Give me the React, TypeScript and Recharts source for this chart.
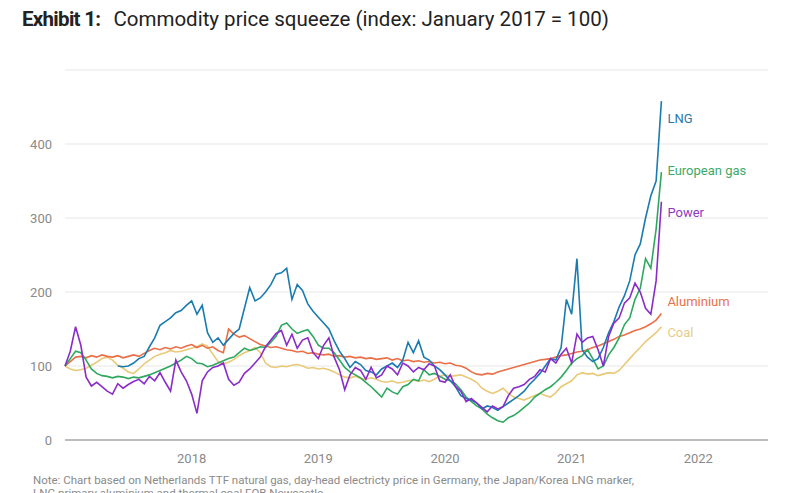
import React from 'react'
import {
  LineChart, Line, XAxis, YAxis, CartesianGrid, ReferenceDot,
} from 'recharts'

// semi-monthly observations from Jan 2017 to Sep 2021 (index: Jan 2017 = 100)
const STEPS_PER_YEAR = 24
const START_YEAR = 2017

const lng = [
  null, null, null, null, null, null, null, null, null, null,
  100, 99, 100, 104, 110, 113, 126, 138, 155, 160,
  165, 172, 175, 182, 188, 170, 182, 145, 132, 138,
  128, 136, 144, 150, 178, 206, 188, 192, 200, 210,
  224, 226, 232, 190, 210, 202, 184, 174, 166, 158,
  150, 134, 120, 110, 98, 106, 102, 94, 92, 88,
  96, 100, 104, 98, 108, 132, 118, 134, 112, 108,
  100, 95, 88, 80, 72, 60, 56, 54, 50, 42,
  46, 44, 40, 45, 50, 55, 60, 66, 75, 82,
  90, 100, 110, 108, 125, 190, 170, 245, 122, 112,
  106, 110, 125, 145, 160, 180, 195, 215, 250, 265,
  300, 330, 350, 458,
]

const euroGas = [
  100, 110, 120, 118, 108, 96, 90, 87, 86, 84,
  86, 85, 83, 85, 84, 86, 88, 91, 94, 97,
  100, 104, 108, 113, 110, 104, 103, 99, 101, 104,
  107, 110, 112, 118, 124, 121, 123, 126, 125, 132,
  140, 155, 158, 150, 144, 147, 149, 140, 128, 124,
  124, 118, 108, 98, 92, 88, 84, 78, 72, 65,
  58, 70, 65, 62, 72, 75, 82, 80, 95, 88,
  90, 86, 82, 80, 76, 68, 58, 52, 46, 42,
  35, 30, 26, 24, 30, 33, 38, 44, 50, 58,
  63, 68, 72, 78, 85, 94, 104, 110, 114, 122,
  110, 96, 100, 115, 125, 138, 156, 165, 190, 205,
  245, 232, 285, 362,
]

const power = [
  100, 120, 153, 128, 85, 73, 78, 72, 66, 62,
  76, 70, 75, 79, 82, 76, 86, 80, 91, 78,
  66, 108, 92, 80, 62, 36, 80, 92, 98, 100,
  104, 82, 74, 78, 90, 96, 104, 112, 126, 135,
  144, 148, 128, 143, 124, 135, 138, 118, 110, 128,
  138, 112, 95, 68, 88, 98, 94, 82, 98, 84,
  88, 100, 96, 88, 104, 100, 92, 98, 95, 103,
  100, 80, 78, 88, 72, 66, 52, 56, 50, 44,
  38, 46, 42, 45, 60, 70, 72, 75, 82, 86,
  95, 92, 110, 104, 116, 124, 104, 143, 132, 138,
  140, 122, 100, 140, 158, 165, 185, 192, 212, 200,
  178, 170, 215, 322,
]

const aluminium = [
  100, 106, 112, 113, 111, 114, 112, 115, 113, 112,
  114, 111, 113, 115, 113, 117, 121, 124, 122, 125,
  123, 126, 124, 127, 129, 125, 128, 124, 126, 121,
  118, 150, 143, 139, 141, 137, 133, 129, 127, 125,
  126, 124, 122, 121, 119, 120, 117, 118, 116, 115,
  116, 113, 114, 112, 113, 111, 112, 110, 111, 109,
  110, 111, 108, 110, 107, 108, 106, 107, 105, 106,
  104, 105, 103, 104, 101, 100, 97, 92, 89, 88,
  90, 89, 92, 94, 96, 98, 100, 102, 104, 106,
  108, 109, 110, 112, 114, 115, 117, 119, 120, 122,
  125, 127, 130, 133, 136, 140, 142, 145, 148, 150,
  153, 157, 162, 171,
]

const coal = [
  100, 96, 94, 95, 97, 101, 105, 110, 112, 108,
  101, 97, 92, 90, 96, 103, 108, 113, 116, 118,
  121, 119, 120, 122, 124, 126, 130, 127, 116, 106,
  103, 105, 109, 114, 118, 121, 125, 118, 104, 99,
  98, 100, 99, 101, 102, 100, 97, 98, 96, 97,
  95, 92, 88, 85, 84, 86, 83, 82, 84, 82,
  79, 78, 80, 77, 78, 80, 81, 79, 81, 79,
  82, 86, 88, 86, 87, 88, 85, 82, 78, 70,
  66, 63, 66, 70, 63, 58, 56, 54, 57, 60,
  63, 60, 58, 64, 72, 76, 80, 88, 91, 89,
  90, 87, 89, 91, 90, 94, 102, 110, 118, 125,
  133, 139, 145, 153,
]

const yearTicks = [2018, 2019, 2020, 2021, 2022]
const valueTicks = [0, 100, 200, 300, 400]

const seriesNames = ['Coal', 'Aluminium', 'European gas', 'LNG', 'Power']
const seriesKeys = ['coal', 'aluminium', 'euroGas', 'lng', 'power']
const seriesColors = ['#e9c978', '#ea6f47', '#2ea85e', '#1a7bb0', '#8a2cc8']
const labelColors = ['#e6cc8a', '#e8714c', '#3daa6a', '#2a78a8', '#8b39c2']
// where each end label sits, in index units
const labelValues = [146, 187, 365, 434, 308]

const chartData = coal.map((_, i) => ({
  t: START_YEAR + i / STEPS_PER_YEAR,
  lng: lng[i],
  euroGas: euroGas[i],
  power: power[i],
  aluminium: aluminium[i],
  coal: coal[i],
}))

const lastT = chartData[chartData.length - 1].t

const FONT = 'Roboto, "Noto Sans", sans-serif'

export default function App() {
  return (
    <div style={{
      position: 'absolute', left: 0, top: 0, width: 797, height: 493,
      overflow: 'hidden', background: '#fff', fontFamily: FONT,
    }}>
      {/* 제목 */}
      <div style={{
        position: 'absolute', left: 22, top: 7, fontSize: 20.5,
        color: '#222', whiteSpace: 'nowrap',
      }}>
        <span style={{ fontWeight: 700, letterSpacing: -0.7 }}>Exhibit 1:</span>
        <span style={{ marginLeft: 13 }}>Commodity price squeeze (index: January 2017 = 100)</span>
      </div>

      <LineChart
        width={797}
        height={493}
        data={chartData}
        margin={{ top: 70, right: 29, bottom: 23, left: 0 }}
      >
        <CartesianGrid vertical={false} stroke="#e8e8e8" strokeWidth={1.2} />
        <XAxis
          dataKey="t"
          type="number"
          domain={[2017, 2022.55]}
          ticks={yearTicks}
          tickFormatter={(v) => String(v)}
          axisLine={{ stroke: '#bdbdbd', strokeWidth: 2 }}
          tickLine={false}
          tickSize={0}
          tickMargin={14}
          height={30}
          tick={{ fontSize: 13, fill: '#8a8a8a', fontFamily: FONT }}
        />
        <YAxis
          domain={[0, 500]}
          ticks={valueTicks}
          axisLine={false}
          tickLine={false}
          tickSize={0}
          tickMargin={13}
          width={65}
          tick={{ fontSize: 13, fill: '#8a8a8a', fontFamily: FONT }}
        />

        {seriesKeys.map((k, i) => (
          <Line
            key={k}
            dataKey={k}
            type="linear"
            stroke={seriesColors[i]}
            strokeWidth={1.6}
            dot={false}
            isAnimationActive={false}
            name={seriesNames[i]}
          />
        ))}

        {/* 오른쪽 시리즈 라벨 */}
        {seriesNames.map((n, i) => (
          <ReferenceDot
            key={n}
            x={lastT}
            y={labelValues[i]}
            r={0}
            fill="none"
            stroke="none"
            label={{
              value: n, position: 'right', offset: 6,
              fontSize: 13, fill: labelColors[i], fontFamily: FONT,
            }}
          />
        ))}
      </LineChart>

      {/* 주석 */}
      <div style={{
        position: 'absolute', left: 33, top: 474, fontSize: 11.5, lineHeight: '13px',
        color: '#8a8a8a', whiteSpace: 'nowrap',
      }}>
        Note: Chart based on Netherlands TTF natural gas, day-head electricty price in Germany, the Japan/Korea LNG marker,
        <br />
        LNG primary aluminium and thermal coal FOB Newcastle
      </div>
    </div>
  )
}
